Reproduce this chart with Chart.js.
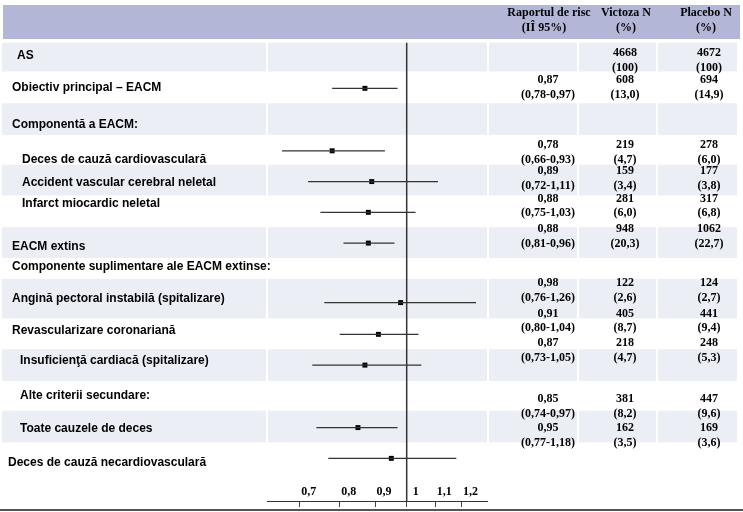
<!DOCTYPE html>
<html>
<head>
<meta charset="utf-8">
<script src="https://cdn.jsdelivr.net/npm/chart.js@4/dist/chart.umd.min.js"></script>
<style>
  html, body { margin: 0; padding: 0; background: #fff; }
  #wrap { position: relative; width: 743px; height: 512px; }
</style>
</head>
<body>
<div id="wrap"><canvas id="forest"></canvas></div>
<script>
// etichetele randurilor (coloana din stanga)
const rowLabels = [
  'AS',
  'Obiectiv principal – EACM',
  'Componentă a EACM:',
  'Deces de cauză cardiovasculară',
  'Accident vascular cerebral neletal',
  'Infarct miocardic neletal',
  'EACM extins',
  'Componente suplimentare ale EACM extinse:',
  'Angină pectoral instabilă (spitalizare)',
  'Revascularizare coronariană',
  'Insuficienţă cardiacă (spitalizare)',
  'Alte criterii secundare:',
  'Toate cauzele de deces',
  'Deces de cauză necardiovasculară'
];

// valorile din tabel (primul rand = AS, fara raport de risc)
const hazardRatio = [null, 0.87, 0.78, 0.89, 0.88, 0.88, 0.98, 0.91, 0.87, 0.85, 0.95];
const ciLow       = [null, 0.78, 0.66, 0.72, 0.75, 0.81, 0.76, 0.80, 0.73, 0.74, 0.77];
const ciHigh      = [null, 0.97, 0.93, 1.11, 1.03, 0.96, 1.26, 1.04, 1.05, 0.97, 1.18];
const victozaN    = [4668, 608, 219, 159, 281, 948, 122, 405, 218, 381, 162];
const victozaPct  = [100, 13.0, 4.7, 3.4, 6.0, 20.3, 2.6, 8.7, 4.7, 8.2, 3.5];
const placeboN    = [4672, 694, 278, 177, 317, 1062, 124, 441, 248, 447, 169];
const placeboPct  = [100, 14.9, 6.0, 3.8, 6.8, 22.7, 2.7, 9.4, 5.3, 9.6, 3.6];
const tickValues  = [0.7, 0.8, 0.9, 1, 1.1, 1.2];

// asezare (pozitii pe verticala, in unitatile axei y)
const labelX   = [17, 12, 12, 22, 22, 22, 12, 12, 12, 12, 20, 20, 20, 8];
const labelY   = [52, 84, 122, 157, 180, 201, 245, 265, 297, 329, 360, 395, 428, 462];
const valueY   = [49, 77, 142, 168, 196, 227, 281, 312, 342, 398, 427];
const plotY    = [null, 85, 148, 179, 210, 241, 301, 333, 364, 427, 458];
const shadedRows = [[39, 68], [100, 132], [162, 193], [225, 256], [277, 317], [348, 380], [410, 442]];
const cellCols = [[2, 266], [268, 487], [489, 577], [579, 656], [658, 737]];
const axisY = 501;

function fmtHr(v) {
  return v.toFixed(2).replace('.', ',');
}
function fmtTick(v) {
  return String(v).replace('.', ',');
}
function fmtPct(v) {
  return v === 100 ? '100' : v.toFixed(1).replace('.', ',');
}

// segmentele intervalelor de incredere, separate prin puncte NaN
const ciSegments = [];
const hrPoints = [];
hazardRatio.forEach((hr, i) => {
  if (hr === null) return;
  ciSegments.push({x: ciLow[i], y: plotY[i]});
  ciSegments.push({x: ciHigh[i], y: plotY[i]});
  ciSegments.push({x: NaN, y: NaN});
  hrPoints.push({x: hr, y: plotY[i]});
});

const tablePlugin = {
  id: 'forestTable',
  beforeDraw(chart) {
    const ctx = chart.ctx;
    const y = chart.scales.y;
    ctx.save();
    ctx.fillStyle = '#b4b6d8';
    ctx.fillRect(3, 5, 737, 34);
    ctx.fillStyle = '#eceef6';
    shadedRows.forEach(r => {
      const top = y.getPixelForValue(r[0]);
      const bot = y.getPixelForValue(r[1]);
      cellCols.forEach(c => ctx.fillRect(c[0], top, c[1] - c[0], bot - top));
    });
    ctx.restore();
  },
  afterDraw(chart) {
    const ctx = chart.ctx;
    const y = chart.scales.y;
    ctx.save();
    ctx.fillStyle = '#000';
    ctx.textBaseline = 'middle';

    // antet
    ctx.font = 'bold 12px "Liberation Serif", "DejaVu Serif", serif';
    ctx.textAlign = 'center';
    ctx.fillText('Raportul de risc', 549, 13);
    ctx.fillText('(IÎ 95%)', 544, 28);
    ctx.fillText('Victoza N', 626, 13);
    ctx.fillText('(%)', 626, 28);
    ctx.fillText('Placebo N', 706, 13);
    ctx.fillText('(%)', 706, 28);

    // etichete
    ctx.font = 'bold 12px "Liberation Sans", Roboto, sans-serif';
    ctx.textAlign = 'left';
    rowLabels.forEach((t, i) => ctx.fillText(t, labelX[i], y.getPixelForValue(labelY[i])));

    // valori
    ctx.font = 'bold 12px "Liberation Serif", "DejaVu Serif", serif';
    ctx.textAlign = 'center';
    valueY.forEach((vy, i) => {
      const y1 = y.getPixelForValue(vy);
      const y2 = y.getPixelForValue(vy + 15);
      if (hazardRatio[i] !== null) {
        ctx.fillText(fmtHr(hazardRatio[i]), 548, y1);
        ctx.fillText('(' + fmtHr(ciLow[i]) + '-' + fmtHr(ciHigh[i]) + ')', 548, y2);
      }
      ctx.fillText(String(victozaN[i]), 625, y1);
      ctx.fillText('(' + fmtPct(victozaPct[i]) + ')', 625, y2);
      ctx.fillText(String(placeboN[i]), 709, y1);
      ctx.fillText('(' + fmtPct(placeboPct[i]) + ')', 709, y2);
    });

    // linia groasa de jos
    ctx.fillStyle = '#555';
    ctx.fillRect(0, 509, 743, 2);
    ctx.restore();
  }
};

new Chart(document.getElementById('forest'), {
  type: 'scatter',
  data: {
    datasets: [{
      data: [{x: 1, y: shadedRows[0][0]}, {x: 1, y: axisY}],
      showLine: true,
      borderColor: '#333',
      borderWidth: 1.5,
      pointRadius: 0
    }, {
      data: ciSegments,
      showLine: true,
      spanGaps: false,
      borderColor: '#333',
      borderWidth: 1.3,
      pointRadius: 0
    }, {
      data: hrPoints,
      pointStyle: 'rect',
      pointRadius: 3.5,
      backgroundColor: '#000',
      borderColor: '#000',
      borderWidth: 0
    }]
  },
  options: {
    responsive: true,
    maintainAspectRatio: false,
    animation: false,
    events: [],
    layout: { padding: { left: 267, right: 256, top: 0, bottom: 1 } },
    plugins: { legend: { display: false }, tooltip: { enabled: false } },
    scales: {
      x: {
        type: 'logarithmic',
        position: 'bottom',
        min: 0.6277,
        max: 1.307,
        afterBuildTicks: s => { s.ticks = tickValues.map(v => ({ value: v })); },
        ticks: {
          mirror: true,
          padding: 2,
          labelOffset: 9,
          autoSkip: false,
          maxRotation: 0,
          color: '#000',
          font: { family: '"Liberation Serif", serif', weight: 'bold', size: 12 },
          callback: v => fmtTick(v)
        },
        grid: { drawOnChartArea: false, drawTicks: true, tickLength: 6, color: '#444' },
        border: { color: '#333', width: 1 }
      },
      y: { display: false, min: 0, max: axisY, reverse: true }
    }
  },
  plugins: [tablePlugin]
});
</script>
</body>
</html>
